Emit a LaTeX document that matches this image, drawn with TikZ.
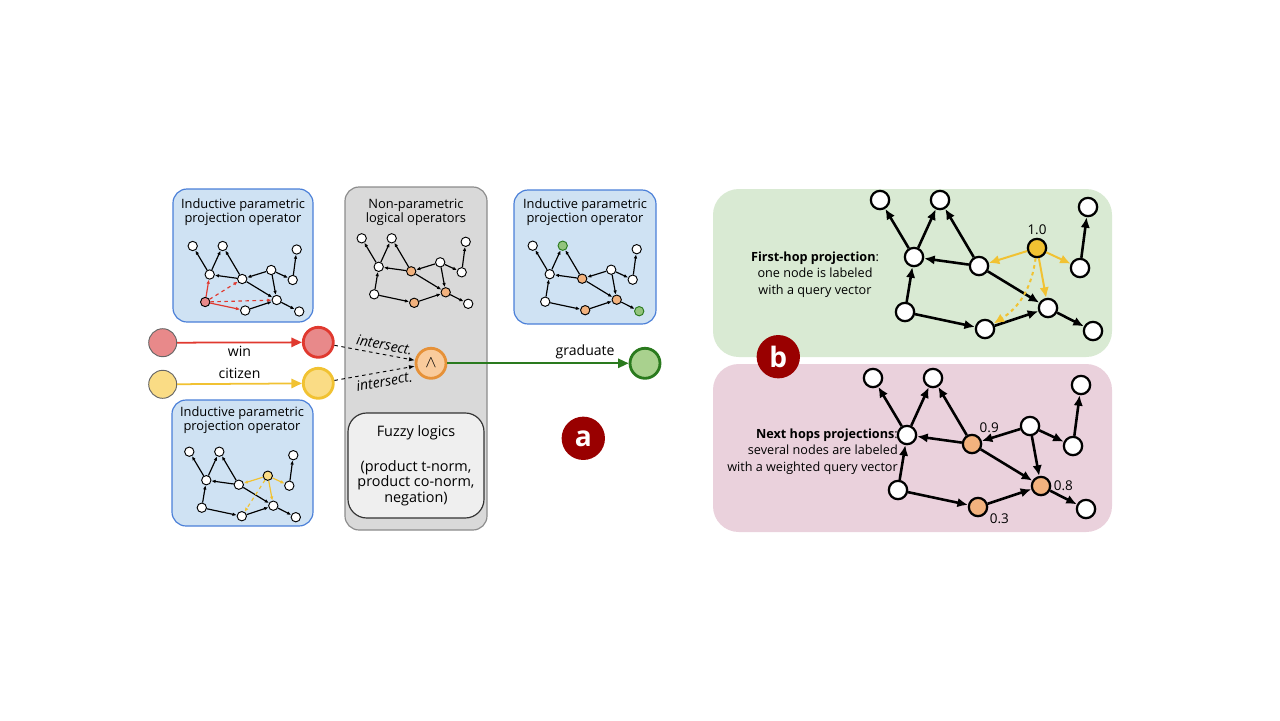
\documentclass[tikz,border=0pt]{standalone}
\usepackage{fontspec}
\setmainfont{Open Sans}
\usetikzlibrary{arrows.meta,backgrounds}

\definecolor{panelblue}{HTML}{CFE2F3}
\definecolor{frameblue}{HTML}{4A7FD8}
\definecolor{panelgray}{HTML}{D9D9D9}
\definecolor{framegray}{HTML}{8C8C8C}
\definecolor{fuzzygray}{HTML}{EFEFEF}
\definecolor{hopgreen}{HTML}{D9EAD3}
\definecolor{hoppink}{HTML}{EAD1DC}
\definecolor{winfill}{HTML}{E8898A}
\definecolor{winline}{HTML}{E0392F}
\definecolor{cityfill}{HTML}{FADC85}
\definecolor{cityline}{HTML}{F1C232}
\definecolor{andfill}{HTML}{F9CB9C}
\definecolor{andline}{HTML}{E69138}
\definecolor{gradfill}{HTML}{A9D18E}
\definecolor{gradline}{HTML}{2A7A1E}
\definecolor{hitorange}{HTML}{F2B27E}
\definecolor{hitgreen}{HTML}{93C47D}
\definecolor{badge}{HTML}{990000}

% the same small knowledge graph, drawn at (x,y) with a scale
% #1 prefix, #2 x, #3 y, #4 scale, #5 vertex size, #6 small or big, #7 more black edges
\newcommand{\QueryGraph}[7]{%
  \foreach \v/\a/\b in {A/0/0, B/60/0, C/208/7, Q/157/48, D/34/57, E/99/66,
                        F/200/68, G/25/112, H/168/108, I/105/129, J/213/131}{
    \node[vertex, #6, minimum size=#5cm, #1\v/.try] (#1\v) at ({#2+#4*\a},{#3+#4*\b}) {};
  }
  \foreach \s/\t in {D/A, D/B, E/B, E/D, E/H, I/H, H/J, F/C, #7}{
    \draw[#6edge] (#1\s) -- (#1\t);
  }
}

\tikzset{
  panel/.style={rounded corners=12, line width=1pt},
  title/.style={align=center, font=\fontsize{11}{11.8}\selectfont},
  vertex/.style={circle, draw=black, fill=white, inner sep=0},
  small/.style={line width=.8pt},
  big/.style={line width=1.9pt},
  smalledge/.style={line width=1pt, -{Latex[length=3.6pt,width=3pt]}},
  bigedge/.style={line width=2.2pt, -{Latex[length=9pt,width=8pt]}},
  hoplabel/.style={font=\fontsize{11.5}{13}\selectfont, inner sep=2pt},
  source/.style={circle, minimum size=.84cm, inner sep=0, draw=black!60, line width=.8pt},
  target/.style={circle, minimum size=.9cm, inner sep=0, line width=2.4pt},
  relation/.style={line width=1.5pt, -{Triangle[length=9pt,width=8pt]}},
  meet/.style={dashed, line width=.8pt, -{Latex[length=5pt]}},
  badgenode/.style={circle, fill=badge, minimum size=1.3cm, inner sep=0, text=white,
    font=\fontsize{24}{24}\selectfont\bfseries},
  % coloured vertices of each copy
  wG/.style={fill=winfill},
  nE/.style={fill=hitorange}, nH/.style={fill=hitorange}, nI/.style={fill=hitorange},
  pE/.style={fill=hitorange}, pH/.style={fill=hitorange}, pI/.style={fill=hitorange},
  pB/.style={fill=hitgreen, draw=gradline}, pJ/.style={fill=hitgreen, draw=gradline},
  cQ/.style={fill=cityfill},
  fQ/.style={fill=cityline, label={[hoplabel]above:1.0}},
  hE/.style={fill=hitorange, label={[hoplabel]60:0.9}},
  hH/.style={fill=hitorange, label={[hoplabel]right:0.8}},
  hI/.style={fill=hitorange, label={[hoplabel]-25:0.3}},
}

\begin{document}
\begin{tikzpicture}[x=0.03cm, y=-0.03cm, font=\fontsize{12}{14}\selectfont]
\useasboundingbox (0,0) rectangle (1280,720);

% panels
\begin{scope}[on background layer]
\draw[panel, fill=panelblue, draw=frameblue] (173,189) rectangle (313,322);
\draw[panel, fill=panelgray, draw=framegray] (345,187) rectangle (487,530);
\draw[panel, fill=fuzzygray, draw=black!80, rounded corners=16] (348,413) rectangle (484,518);
\draw[panel, fill=panelblue, draw=frameblue] (514,190) rectangle (656,324);
\draw[panel, fill=panelblue, draw=frameblue] (172,400) rectangle (313,526);
\fill[hopgreen, rounded corners=22] (713,189) rectangle (1112,357);
\fill[hoppink, rounded corners=22] (713,364) rectangle (1112,532);
\end{scope}

\node[title] (proj1) at (243,212) {Inductive parametric\\projection operator};
\node[title] (logic) at (416,212) {Non-parametric\\logical operators};
\node[title] (proj2) at (585,212) {Inductive parametric\\projection operator};
\node[title] (proj3) at (242,420) {Inductive parametric\\projection operator};
\node[align=center, font=\fontsize{12.3}{13.4}\selectfont] (fuzzy) at (416,466)
  {Fuzzy logics\\[16pt](product t-norm,\\product co-norm,\\negation)};

% small graphs
\QueryGraph{w}{192.7}{246}{0.5}{.28}{small}{Q/E, Q/F, Q/H}
\draw[smalledge, winline] (wG) -- (wD);
\draw[smalledge, winline] (wG) -- (wI);
\draw[smalledge, winline, dashed] (wG) -- (wE);
\draw[smalledge, winline, dashed] (wG) -- (wH);
\QueryGraph{n}{361.7}{238.3}{0.5}{.28}{small}{G/D, G/I, Q/E, Q/F, Q/H}
\QueryGraph{p}{532.7}{245.7}{0.5}{.28}{small}{G/D, G/I, Q/E, Q/F, Q/H}
\QueryGraph{c}{189.3}{451.7}{0.5}{.28}{small}{G/D, G/I}
\draw[smalledge, cityline] (cQ) -- (cE);
\draw[smalledge, cityline] (cQ) -- (cF);
\draw[smalledge, cityline] (cQ) -- (cH);
\draw[smalledge, cityline, dashed] (cQ) -- (cI);

% query chain
\node[source, fill=winfill] (win0) at (162.7,342.7) {};
\node[target, fill=winfill, draw=winline] (win1) at (318.3,342.3) {};
\node[source, fill=cityfill] (cit0) at (162.7,384.3) {};
\node[target, fill=cityfill, draw=cityline] (cit1) at (318.3,383.3) {};
\node[target, fill=andfill, draw=andline, font=\Large] (and) at (431,363.3) {$\wedge$};
\node[target, fill=gradfill, draw=gradline] (grad) at (645,363.3) {};
\draw[relation, winline] (win0) -- node[below=-1pt, text=black]{win} (win1);
\draw[relation, cityline] (cit0) -- node[above, text=black]{citizen} (cit1);
\draw[meet] (win1) -- node[pos=.6, above, sloped]{\textit{intersect.}} (and);
\draw[meet] (cit1) -- node[pos=.6, below, sloped]{\textit{intersect.}} (and);
\draw[relation, gradline] (and) -- node[pos=.76, above, text=black]{graduate} (grad);
\node[badgenode] (a) at (583.3,438.3) {a};

% big graphs
\QueryGraph{f}{880}{200}{1}{.55}{big}{G/D, G/I}
\draw[bigedge, cityline, line width=1.7pt] (fQ) -- (fE);
\draw[bigedge, cityline, line width=1.7pt] (fQ) -- (fF);
\draw[bigedge, cityline, line width=1.7pt] (fQ) -- (fH);
\draw[bigedge, cityline, line width=1.7pt, dashed] (fQ) to[bend left=25] (fI);
\QueryGraph{h}{873}{378}{1}{.55}{big}{G/D, G/I, Q/E, Q/F, Q/H}

\node[align=center, inner sep=0, font=\fontsize{10.8}{14.2}\selectfont] (first) at (815,274.5)
  {\textbf{First-hop projection}:\\one node is labeled\\with a query vector};
\node[align=right, anchor=east, inner sep=0, font=\fontsize{10.8}{14.2}\selectfont] (next) at (898,451.7)
  {\textbf{Next hops projections}:\\several nodes are labeled\\with a weighted query vector};
\node[badgenode] (b) at (778.3,356.7) {b};
\end{tikzpicture}
\end{document}
